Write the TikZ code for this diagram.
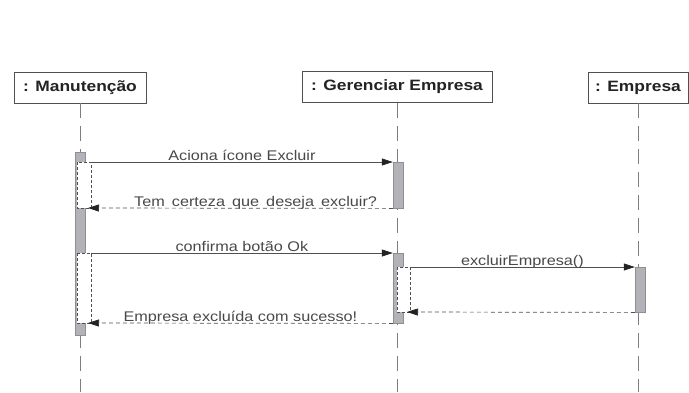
\documentclass[tikz,border=0pt]{standalone}
\usepackage{fontspec}
\setmainfont[FakeStretch=1.16]{Liberation Sans}
\usetikzlibrary{arrows.meta,positioning,calc}
\definecolor{Seq}{RGB}{80,80,80}
\definecolor{Life}{RGB}{125,125,125}
\definecolor{Act}{RGB}{178,178,184}
\definecolor{Ink}{RGB}{35,35,35}
\tikzset{
  sobj/.style={draw=Seq,line width=0.9pt,fill=white,text=Ink,font=\fontsize{15}{18}\selectfont\bfseries,minimum height=31pt,inner sep=0pt},
  slife/.style={draw=Life,line width=0.8pt,dash pattern=on 15pt off 8pt},
  sact/.style={draw=Act!80!black,fill=Act,line width=0.4pt,minimum width=10pt,inner sep=0pt,anchor=north},
  sret/.style={draw=Seq,fill=white,line width=0.6pt,dash pattern=on 3pt off 2pt},
  smsg/.style={-{Triangle[length=11pt,width=7pt,color=Ink]},draw=Seq,line width=0.7pt},
  sback/.style={smsg,dash pattern=on 4pt off 3pt},
  slab/.style={font=\fontsize{14}{16}\selectfont,text=Seq!90!black,anchor=base,yshift=2pt,inner sep=0pt}
}

\begin{document}
\begin{tikzpicture}[x=1pt,y=-1pt]
\useasboundingbox (0,0) rectangle (689,392);
\coordinate (bot) at (0,392);
\node[sobj,minimum width=132pt] (man) at (80,87.5) {: Manutenção};
\node[sobj,minimum width=190pt] (ger) at (397,87) {: Gerenciar Empresa};
\node[sobj,minimum width=100pt] (emp) at (638,87.5) {: Empresa};
\draw[slife] (man.south) -- (man.south |- bot);
\draw[slife] (ger.south) -- (ger.south |- bot);
\draw[slife] (emp.south) -- (emp.south |- bot);
\node[sact,minimum height=183pt] (manact) at (80,152) {};
\node[sact,minimum height=46pt] (ger1) at (398,162) {};
\node[sact,minimum height=70pt] (ger2) at (398,253) {};
\node[sact,minimum height=45pt] (empact) at (640,267) {};
\coordinate (c1) at (91,162);
\coordinate (c2) at (88,208);
\coordinate (c3) at (91,253);
\coordinate (c4) at (88,323);
\coordinate (c5) at (410,267);
\coordinate (c6) at (407,312);
\draw[sret] (77,162) rectangle (91,208);
\draw[sret] (77,253) rectangle (91,323);
\draw[sret] (397,267) rectangle (410,312);
\draw[smsg] (c1) -- node[slab]{Aciona ícone Excluir} (ger1.north west);
\draw[sback] (ger1.south west) -- node[slab,pos=0.45]{\spaceskip=7pt plus 1pt\relax Tem certeza que deseja excluir?} (c2);
\draw[smsg] (c3) -- node[slab]{confirma botão Ok} (ger2.north west);
\draw[smsg] (c5) -- node[slab]{excluirEmpresa()} (empact.north west);
\draw[sback] (empact.south west) -- (c6);
\draw[sback] (ger2.south west) -- node[slab]{Empresa excluída com sucesso!} (c4);
\end{tikzpicture}
\end{document}
